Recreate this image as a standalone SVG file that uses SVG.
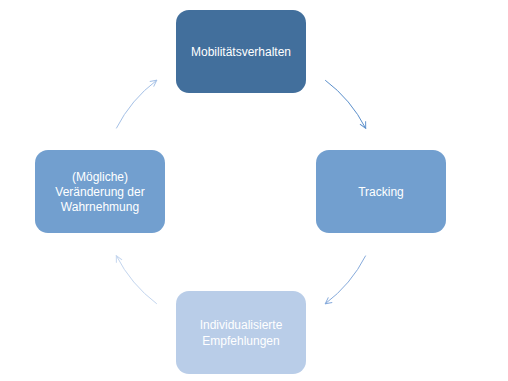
<svg xmlns="http://www.w3.org/2000/svg" width="508" height="381" viewBox="0 0 508 381">
<style>
.box{stroke:none}
.lbl{font-family:"Liberation Sans",Arial,sans-serif;font-size:12px;fill:#ffffff;text-anchor:middle}
.arc{fill:none;stroke-width:1}
</style>
<defs>
<marker id="m1" viewBox="0 0 10 10" refX="9" refY="5" markerWidth="8" markerHeight="8" markerUnits="userSpaceOnUse" orient="auto"><path d="M1,1 L9,5 L1,9" fill="none" stroke="#5B8FCB" stroke-width="1.2"/></marker>
<marker id="m2" viewBox="0 0 10 10" refX="9" refY="5" markerWidth="8" markerHeight="8" markerUnits="userSpaceOnUse" orient="auto"><path d="M1,1 L9,5 L1,9" fill="none" stroke="#86AADB" stroke-width="1.2"/></marker>
<marker id="m3" viewBox="0 0 10 10" refX="9" refY="5" markerWidth="8" markerHeight="8" markerUnits="userSpaceOnUse" orient="auto"><path d="M1,1 L9,5 L1,9" fill="none" stroke="#C3D5EE" stroke-width="1.2"/></marker>
<marker id="m4" viewBox="0 0 10 10" refX="9" refY="5" markerWidth="8" markerHeight="8" markerUnits="userSpaceOnUse" orient="auto"><path d="M1,1 L9,5 L1,9" fill="none" stroke="#A4C0E6" stroke-width="1.2"/></marker>
</defs>
<rect width="508" height="381" fill="#ffffff"/>
<g id="connectors">
<path class="arc" d="M325.2,80.2 A140,140 0 0 1 365.7,128.4" stroke="#5B8FCB" marker-end="url(#m1)"/>
<path class="arc" d="M365.7,255.6 A140,140 0 0 1 325.2,303.8" stroke="#86AADB" marker-end="url(#m2)"/>
<path class="arc" d="M156.8,303.8 A140,140 0 0 1 116.3,255.6" stroke="#C3D5EE" marker-end="url(#m3)"/>
<path class="arc" d="M116.3,128.4 A140,140 0 0 1 156.8,80.2" stroke="#A4C0E6" marker-end="url(#m4)"/>
</g>
<g id="node-mobilitaet">
<rect class="box" x="176" y="10" width="130" height="83" rx="13" fill="#426F9C"/>
<text class="lbl" x="241" y="56">Mobilitätsverhalten</text>
</g>
<g id="node-tracking">
<rect class="box" x="316" y="150" width="130" height="83" rx="13" fill="#729FCF"/>
<text class="lbl" x="381" y="196">Tracking</text>
</g>
<g id="node-empfehlungen">
<rect class="box" x="176" y="291" width="130" height="83" rx="13" fill="#B9CDE8"/>
<text class="lbl" x="241" y="329">Individualisierte</text>
<text class="lbl" x="241" y="345">Empfehlungen</text>
</g>
<g id="node-wahrnehmung">
<rect class="box" x="35" y="150" width="130" height="83" rx="13" fill="#729FCF"/>
<text class="lbl" x="100" y="181">(Mögliche)</text>
<text class="lbl" x="100" y="196">Veränderung der</text>
<text class="lbl" x="100" y="211">Wahrnehmung</text>
</g>
</svg>
